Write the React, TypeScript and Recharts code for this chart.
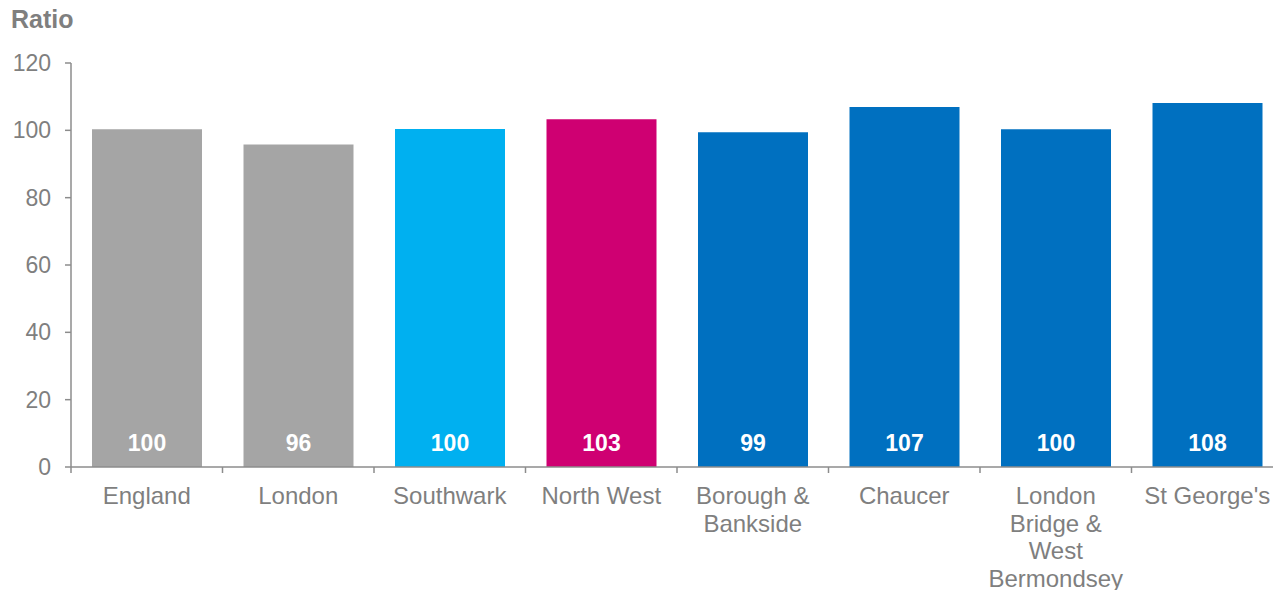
import { BarChart, Bar, XAxis, YAxis, Cell, LabelList } from "recharts";

// categories as printed under the axis (line breaks as in the source)
const categories = [
  "England",
  "London",
  "Southwark",
  "North West",
  "Borough &\nBankside",
  "Chaucer",
  "London\nBridge &\nWest\nBermondsey",
  "St George's",
];
const ratios = [100.3, 95.8, 100.4, 103.3, 99.4, 106.9, 100.3, 108.1];
const yTicks = [0, 20, 40, 60, 80, 100, 120];

const BAR_COLORS = [
  "#A5A5A5",
  "#A5A5A5",
  "#00B0F0",
  "#CF0072",
  "#0070C0",
  "#0070C0",
  "#0070C0",
  "#0070C0",
];

const W = 1300;
const H = 590;
const TOP = 63;
const LEFT = 71;
const RIGHT = 17;
const X_AXIS_H = 123;
const AXIS_Y = H - X_AXIS_H;
const BAND = (W - LEFT - RIGHT) / categories.length;
const GREY = "#7F7F7F";
const AXIS_GREY = "#8C8C8C";
const FONT = "'Liberation Sans', Arial, sans-serif";

const data = categories.map((name, i) => ({ name, value: ratios[i] }));

function CategoryTick(props: any) {
  const { x, payload, index } = props;
  const lines = String(payload.value).split("\n");
  const left = x - BAND / 2;
  return (
    <g>
      <line x1={left} x2={left} y1={AXIS_Y} y2={AXIS_Y + 6} stroke={AXIS_GREY} strokeWidth={1.5} />
      {index === categories.length - 1 && (
        <line x1={x + BAND / 2} x2={x + BAND / 2} y1={AXIS_Y} y2={AXIS_Y + 6} stroke={AXIS_GREY} strokeWidth={1.5} />
      )}
      <text x={x} y={AXIS_Y + 37} textAnchor="middle" fill={GREY} fontSize={24} fontFamily={FONT}>
        {lines.map((l, i) => (
          <tspan key={i} x={x} dy={i === 0 ? 0 : 27.7}>
            {l}
          </tspan>
        ))}
      </text>
    </g>
  );
}

function ValueLabel(props: any) {
  const { x, y, width, height, value } = props;
  return (
    <text
      x={x + width / 2}
      y={y + height - 16}
      textAnchor="middle"
      fill="#FFFFFF"
      fontSize={23}
      fontWeight="bold"
      fontFamily={FONT}
    >
      {Math.round(value)}
    </text>
  );
}

export default function App() {
  return (
    <div style={{ position: "absolute", left: 0, top: 0, width: 1273, height: 590, overflow: "hidden", background: "#fff" }}>
      <svg width={200} height={40} style={{ position: "absolute", left: 0, top: 0 }}>
        <text x={11} y={28} fill={GREY} fontSize={25} fontWeight="bold" fontFamily={FONT}>
          Ratio
        </text>
      </svg>
      <BarChart width={W} height={H} data={data} margin={{ top: TOP, right: RIGHT, bottom: 0, left: 0 }}>
        <XAxis
          dataKey="name"
          height={X_AXIS_H}
          interval={0}
          tickLine={false}
          axisLine={{ stroke: AXIS_GREY, strokeWidth: 1.5 }}
          tick={<CategoryTick />}
        />
        <YAxis
          width={LEFT}
          domain={[0, 120]}
          ticks={yTicks}
          interval={0}
          tickSize={6}
          tickMargin={14}
          axisLine={{ stroke: AXIS_GREY, strokeWidth: 1.5 }}
          tickLine={{ stroke: AXIS_GREY, strokeWidth: 1.5 }}
          tick={{ fill: GREY, fontSize: 23, fontFamily: FONT }}
        />
        <Bar dataKey="value" barSize={110} isAnimationActive={false}>
          {data.map((d, i) => (
            <Cell key={d.name} fill={BAR_COLORS[i]} />
          ))}
          <LabelList dataKey="value" content={<ValueLabel />} />
        </Bar>
      </BarChart>
    </div>
  );
}
